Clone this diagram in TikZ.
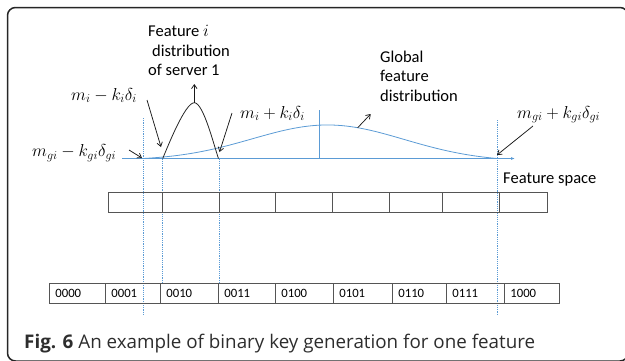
\documentclass[tikz,border=0pt]{standalone}
\usepackage{fontspec}
\setmainfont{Carlito}
\newfontfamily\capfont{Open Sans}
\usetikzlibrary{arrows.meta}
\definecolor{axisblue}{RGB}{91,155,213}
\definecolor{boxgray}{RGB}{85,85,85}
\definecolor{captext}{RGB}{45,45,45}

\begin{document}
\begin{tikzpicture}[x=1pt,y=-1pt,
  lbl/.style={inner sep=0pt, font=\fontsize{16.5}{19.5}\selectfont, anchor=base west, align=left},
  mlbl/.style={inner sep=0pt, font=\fontsize{18}{20}\selectfont, anchor=base west},
  pointer/.style={draw=black!90, line width=0.75pt, -{Straight Barb[length=4pt,width=5.5pt]}},
  guide/.style={draw=axisblue, line width=0.8pt, dash pattern=on 1.2pt off 1pt},
  curve/.style={draw=axisblue, line width=0.8pt},
  cellbox/.style={draw=boxgray, line width=0.8pt, minimum height=20pt, inner sep=0pt, anchor=north west},
  keycell/.style={cellbox, font=\fontsize{12.7}{14}\selectfont, align=left, inner xsep=6pt}
]
\useasboundingbox (0,0) rectangle (625,360);

% rounded frame
\draw[line width=1.5pt, black!85, rounded corners=8pt] (7.5,361) rectangle (628,7.5);

% guide lines
\coordinate (g1t) at (143,118);  \coordinate (g1b) at (143,315);
\coordinate (g2t) at (162,158.5); \coordinate (g2b) at (162,282);
\coordinate (g3t) at (219,158.5); \coordinate (g3b) at (219,282);
\coordinate (g4t) at (497,120);  \coordinate (g4b) at (497,315);
\draw[guide] (g1t) -- (g1b);
\draw[guide] (g2t) -- (g2b);
\draw[guide] (g3t) -- (g3b);
\draw[guide] (g4t) -- (g4b);

% feature axis
\coordinate (ax0) at (122,158.5);
\coordinate (ax1) at (515,158.5);
\draw[curve, -{Latex[length=4pt,width=3pt]}] (ax0) -- (ax1);

% global feature distribution
\draw[curve] plot[domain=143:497, samples=120, smooth]
  (\x, {158.5 - 36*(exp(-0.5*((\x-328)/76)*((\x-328)/76)) - 0.0517 - 0.0327*(\x-143)/354)});
\draw[curve] (319,110) -- (319,158.5);

% distribution of server 1
\coordinate (peak) at (194.3,102.7);
\draw[black!85, line width=0.8pt] (162.7,158.5) .. controls (168,146) and (185,102.7) .. (peak)
  .. controls (203.5,102.7) and (214,146) .. (218.5,158.5);

% interval row
\foreach \xa/\xb [count=\k] in {108/162,162/219,219/275,275/332,332/389,389/442,442/499,499/547} {
  \pgfmathsetmacro\w{\xb-\xa}
  \node[cellbox, minimum width=\w pt] (iv\k) at (\xa,192) {};
}

% binary keys
\foreach \lab/\xa/\xb [count=\k] in {0000/49/105,0001/105/160,0010/160/218,0011/218/275,0100/275/333,0101/333/392,0110/392/446,0111/446/504,1000/504/559} {
  \pgfmathsetmacro\tw{\xb-\xa-12}
  \node[keycell, text width=\tw pt] (key\k) at (\xa,283) {\lab};
}

% labels (base anchor sits on the last line)
\node[lbl] (srv) at (148,75.5) {Feature $i$\\\hspace*{4pt}distribution\\of server 1};
\node[lbl] (glob) at (380,101) {Global\\feature\\distribution};
\node[lbl] (fspace) at (503,183) {Feature space};

\node[mlbl] (lo) at (71,100) {$m_i - k_i\delta_i$};
\node[mlbl] (hi) at (240,118) {$m_i + k_i\delta_i$};
\node[mlbl] (glo) at (32,156.5) {$m_{gi} - k_{gi}\delta_{gi}$};
\node[mlbl] (ghi) at (517,118) {$m_{gi} + k_{gi}\delta_{gi}$};

% pointers
\coordinate (peaktop) at (194.3,84);
\coordinate (lo-s) at (147,100);  \coordinate (lo-e) at (161,147);
\coordinate (hi-s) at (232,113);  \coordinate (hi-e) at (219.5,152);
\coordinate (glo-s) at (129,150); \coordinate (glo-e) at (142,158);
\coordinate (glob-s) at (357.7,127.7); \coordinate (glob-e) at (370.7,114);
\coordinate (ghi-s) at (533,126); \coordinate (ghi-e) at (497,155);
\draw[pointer] (peak) -- (peaktop);
\draw[pointer] (lo-s) -- (lo-e);
\draw[pointer] (hi-s) -- (hi-e);
\draw[pointer] (glo-s) -- (glo-e);
\draw[pointer] (glob-s) -- (glob-e);
\draw[pointer] (ghi-s) -- (ghi-e);

% caption
\node[anchor=base west, inner sep=0pt, font=\capfont\fontsize{18.8}{22}\selectfont, text=captext] (caption)
  at (24,348) {\textbf{Fig. 6} An example of binary key generation for one feature};
\end{tikzpicture}
\end{document}
